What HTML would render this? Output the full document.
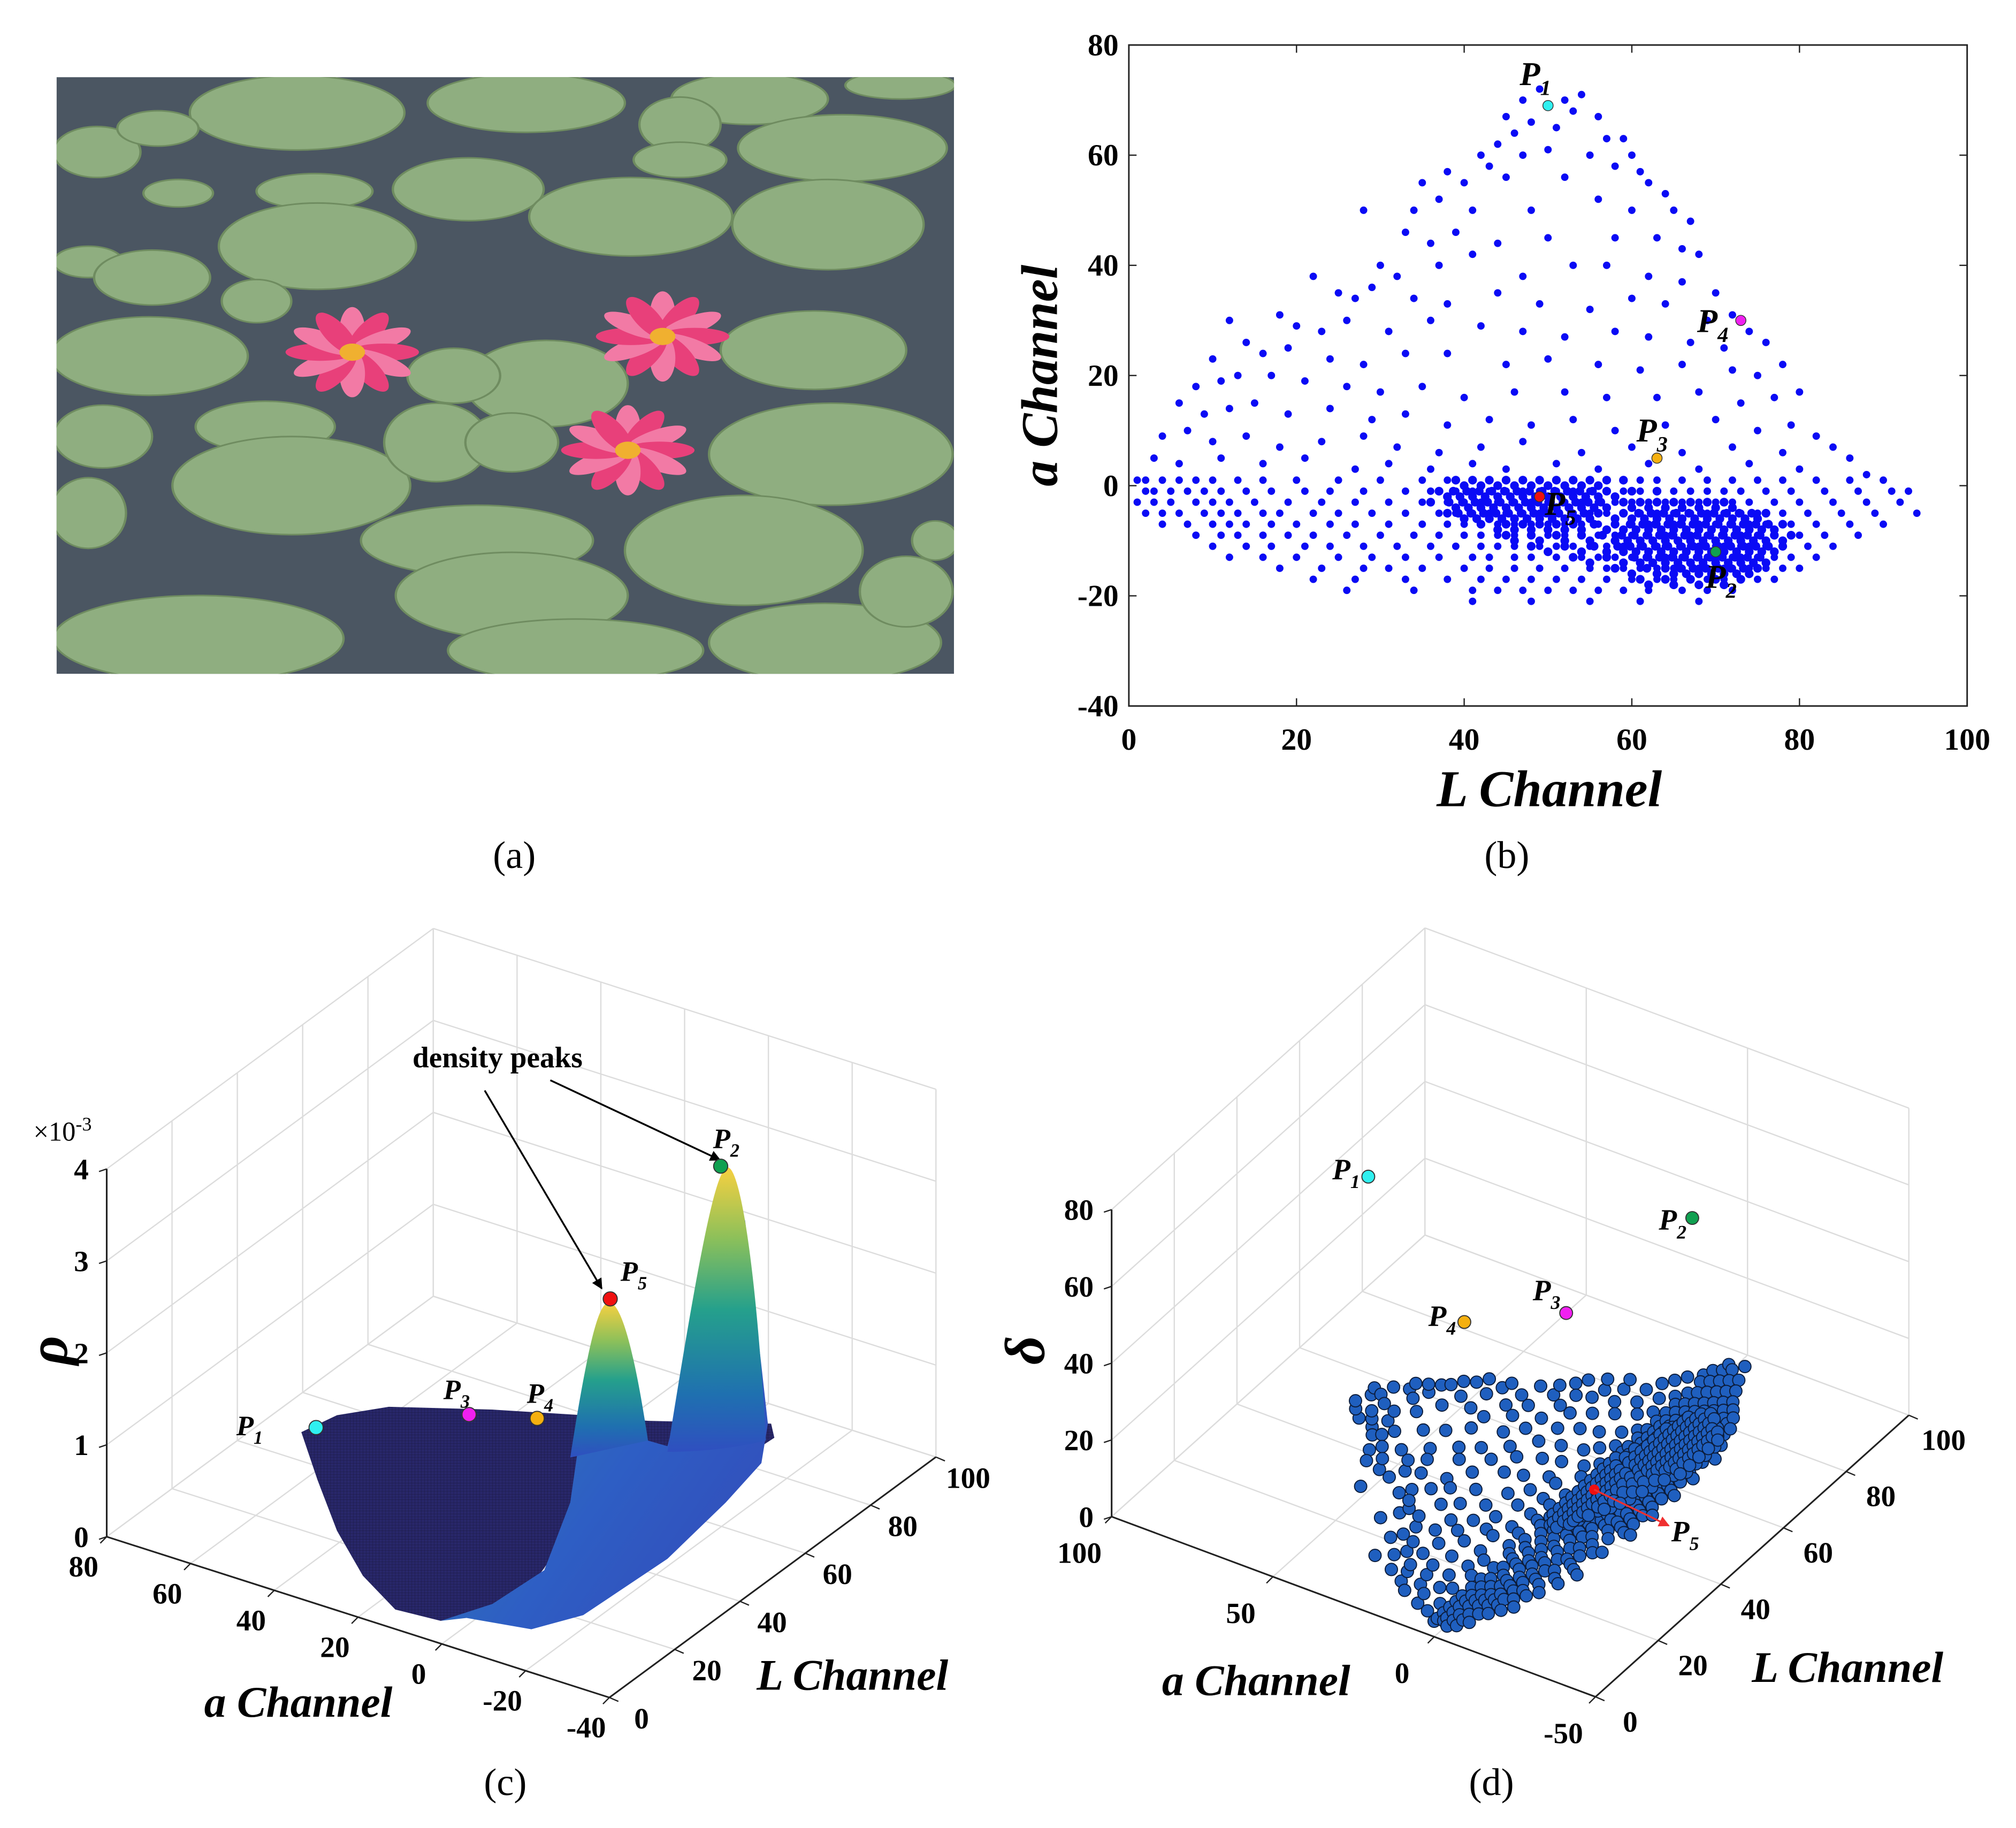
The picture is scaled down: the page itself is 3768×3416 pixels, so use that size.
<!DOCTYPE html>
<html><head><meta charset="utf-8"><style>
html,body{margin:0;padding:0;background:#fff;}
svg{display:block;}
text{font-family:"Liberation Serif",serif;}
</style></head><body>
<svg id="fig" xmlns="http://www.w3.org/2000/svg" width="3768" height="3416" viewBox="0 0 1568 1421.5" preserveAspectRatio="none">
<defs>
<clipPath id="photoClip"><rect x="44" y="60" width="698" height="464"/></clipPath>
<linearGradient id="peakGrad" x1="0" y1="0" x2="0" y2="1">
<stop offset="0" stop-color="#f7d040"/><stop offset="0.25" stop-color="#8cc05a"/><stop offset="0.5" stop-color="#25a08c"/><stop offset="0.8" stop-color="#1f70b0"/><stop offset="1" stop-color="#2f4fc0"/></linearGradient>
<linearGradient id="bodyGrad" x1="0" y1="0" x2="1" y2="1">
<stop offset="0" stop-color="#2b8fa5"/><stop offset="0.6" stop-color="#2e5ec4"/><stop offset="1" stop-color="#3448b8"/></linearGradient>
<pattern id="mesh" width="5" height="5" patternUnits="userSpaceOnUse"><rect width="5" height="5" fill="#28276a"/><path d="M0,0 L5,0 M0,0 L0,5" stroke="#1a1940" stroke-width="0.8"/></pattern>
<marker id="arrowBlack" viewBox="0 0 10 10" refX="9" refY="5" markerWidth="6" markerHeight="6" orient="auto"><path d="M0,0 L10,5 L0,10 Z" fill="#000"/></marker>
<marker id="arrowRed" viewBox="0 0 10 10" refX="9" refY="5" markerWidth="6" markerHeight="6" orient="auto"><path d="M0,0 L10,5 L0,10 Z" fill="#f03030"/></marker>
</defs>
<g id="panelA" clip-path="url(#photoClip)"></g>
<g id="panelB"></g>
<g id="panelC"></g>
<g id="panelD"></g>
<g id="captions"></g>
</svg>
<script>
// ---------- data: panel (b) scatter ----------
const sparseL = [45,47,49,52,54,53,56,44,46,48,51,57,59,42,43,47,50,55,58,60,61,38,35,40,45,52,62,64,34,37,41,48,56,60,65,67,28,33,36,39,44,50,58,63,66,68,30,32,37,41,47,53,57,62,66,70,22,25,27,29,34,38,44,49,55,60,64,69,72,74,18,20,23,26,31,36,42,47,52,58,62,67,71,76,12,14,16,19,24,28,33,38,45,50,56,61,66,72,75,78,10,8,11,13,17,21,26,30,35,40,46,52,57,63,68,73,77,80,6,9,12,15,19,24,29,33,38,43,48,53,58,64,70,75,79,82,4,7,10,14,18,23,28,32,37,42,47,54,60,66,72,78,84,86,3,6,11,16,21,27,31,36,41,45,51,56,62,68,74,80,88,91];
const sparseA = [67,70,72,70,71,68,67,62,64,66,65,63,63,60,58,60,61,60,58,60,57,57,55,55,56,56,55,53,50,52,50,50,52,50,50,48,50,46,44,46,44,45,45,45,43,42,40,38,40,42,38,40,40,38,37,35,38,35,34,36,34,33,35,33,32,34,33,30,31,28,31,29,28,30,28,30,29,28,27,28,27,26,25,26,30,26,24,25,23,22,24,24,22,23,22,21,22,21,20,22,23,18,19,20,20,19,18,17,18,16,17,17,16,16,17,15,16,17,15,13,14,15,13,14,12,13,11,12,11,12,10,11,12,10,11,9,9,10,8,9,7,8,9,7,6,7,8,6,7,6,7,6,7,5,5,4,5,4,5,3,4,3,4,3,4,3,4,3,4,3,2];
const bandA = [1,-1,-3,-5,-7,-9,-11,-13,-15,-17,-19,-21];
const bandL = [
[1,2,4,6,8,10,13,16,20,25,30,35,38,41,43,45,47,49,51,53,55,57,59,61,63,66,69,72,75,78,82,86,90],
[2,3,5,7,9,11,14,17,21,24,28,33,36,39,41,43,45,47,49,51,53,55,57,59,61,63,65,67,69,71,73,76,79,83,87,91,93],
[1,3,5,8,10,12,15,19,23,27,31,35,38,40,42,44,46,48,50,52,54,56,58,60,62,64,66,68,70,72,74,77,80,84,88,92],
[2,4,6,9,11,13,16,18,22,25,29,33,37,39,41,43,45,47,49,51,53,55,57,59,61,63,65,67,69,71,73,75,78,81,85,89,94],
[4,7,10,12,14,17,20,24,27,31,35,38,40,42,44,46,48,50,52,54,56,58,60,62,63,65,66,68,70,72,74,76,79,82,86,90],
[8,11,13,16,19,22,26,30,34,37,40,42,44,46,48,50,52,54,56,58,60,62,64,65,67,69,71,73,75,77,80,83,87],
[10,14,17,21,24,28,32,36,39,42,44,46,49,51,53,55,57,59,61,63,64,66,67,68,70,71,73,74,76,78,81,84],
[12,16,20,25,29,33,37,41,43,46,48,51,54,56,58,60,62,64,65,66,68,69,70,72,73,75,77,79,82],
[18,23,28,31,35,40,43,46,49,52,55,57,59,61,63,65,66,68,69,71,72,74,76,78,80],
[22,27,33,38,42,45,48,51,54,57,60,63,65,67,69,71,73,75,77],
[26,34,41,44,47,50,53,56,59,62,66,69,72],
[41,48,55,61,68]];
const denseA = [0,-2,-4,-6,-8,-10,-12,-14,-16,-18];
const denseL = [
[40,42,44,46,48,50,52,54,56],
[38,39.5,41,42.5,44,45.5,47,48.5,50,51.5,53,54.5,56,58],
[39,40.5,42,43.5,45,46.5,48,49.5,51,52.5,54,55.5,57,60,62,64,66,68,70,72],
[40,41.5,43,44.5,46,47.5,49,50.5,52,53.5,55,58,60,61.5,63,64.5,66,67.5,69,70.5,72,73.5,75],
[44,46,48,50,52,54,57,59,60.5,62,63.5,65,66.5,68,69.5,71,72.5,74,75.5,77],
[46,49,52,55,58,59.5,61,62.5,64,65.5,67,68.5,70,71.5,73,74.5,76,78],
[50,54,57,59,60.5,62,63.5,65,66.5,68,69.5,71,72.5,74,75.5,77],
[55,59,61,62.5,64,65.5,67,68.5,70,71.5,73,74.5,76],
[60,63,65,66.5,68,69.5,71,72.5,74],
[62,65,68,71]];
const denseA2 = [1,-1,-3,-5,-7,-9,-11,-13,-15,-17];
const denseL2 = [
[39,41,43,45,47,49,51,53,55,57,59],
[37,38.7,40.3,41.8,43.3,44.8,46.3,47.8,49.3,50.8,52.3,53.8,55.3,57,60,63],
[36,38.2,39.8,41.3,42.8,44.3,45.8,47.3,48.8,50.3,51.8,53.3,54.8,56.3,59,61,63,65,67,69,71],
[38,39.3,40.8,42.3,43.8,45.3,46.8,48.3,49.8,51.3,52.8,54.3,56,59,60.8,62.3,63.8,65.3,66.8,68.3,69.8,71.3,72.8,74.3,76],
[42,45,47,49,51,53,55.5,58,59.8,61.3,62.8,64.3,65.8,67.3,68.8,70.3,71.8,73.3,74.8,76.3,78],
[45,48,51,54,56.5,58.8,60.3,61.8,63.3,64.8,66.3,67.8,69.3,70.8,72.3,73.8,75.3,77,79],
[48,52,55.5,58.3,59.8,61.3,62.8,64.3,65.8,67.3,68.8,70.3,71.8,73.3,74.8,76.3,78],
[53,57,60.3,61.8,63.3,64.8,66.3,67.8,69.3,70.8,72.3,73.8,75.3],
[58,61.8,64,65.8,67.3,68.8,70.3,71.8,73.3,75],
[61,64,67,70,73]];
const peakNames = ['P1','P2','P3','P4','P5'];
const peakColors = ['#2ff0f0','#10a050','#f5b010','#f020f0','#f01010'];
const peakL = [50,70,63,73,49];
const peakA = [69,-12,5,30,-2];
const xTicksB = [0,20,40,60,80,100];
const yTicksB = [-40,-20,0,20,40,60,80];
// ---------- data: panel (c) ----------
const cNames = ['P1','P2','P3','P4','P5'];
const cColors = ['#2ff0f0','#10a050','#f020f0','#f5b010','#f01010'];
const cL = [50,70,68.5,73.7,49];
const cA = [69,-12,46.9,34.7,-2];
const cRho = [0.04,3.54,0.02,0.02,2.5];
const cZTicks = [0,1,2,3,4];
const cATicks = [80,60,40,20,0,-20,-40];
const cLTicks = [0,20,40,60,80,100];
// ---------- data: panel (d) ----------
const dNames = ['P1','P2','P3','P4'];
const dColors = ['#2ff0f0','#10a050','#f020f0','#f5b010'];
const dL = [50,70,73,40.5];
const dA = [69,-12,30,30];
const dDelta = [61.6,61.5,21.4,42.9];
const dZTicks = [0,20,40,60,80];
const dATicks = [100,50,0,-50];
const dLTicks = [0,20,40,60,80,100];
const cloudDelta = 3;

const NS='http://www.w3.org/2000/svg';
function mk(tag,name,attrs,parent){
  const el=document.createElementNS(NS,tag);
  
  
  for(const k in attrs) el.setAttribute(k,attrs[k]);
  parent.appendChild(el); return el;
}
function txt(name,x,y,s,size,parent,extra){
  const a=Object.assign({x:x,y:y,'font-size':size,'font-weight':'bold','text-anchor':'middle'},extra||{});
  const t=mk('text',name,a,parent); t.textContent=s; return t;
}
function plabel(name,x,y,s,size,parent){
  const t=mk('text',name,{x:x,y:y,'font-size':size,'font-weight':'bold','font-style':'italic','text-anchor':'start'},parent);
  t.appendChild(document.createTextNode(s[0]));
  const sp=document.createElementNS(NS,'tspan');
  
  
  sp.setAttribute('dy',size*0.3); sp.setAttribute('font-size',size*0.65);
  sp.textContent=s.slice(1); t.appendChild(sp); return t;
}
const nSparse=Math.min(sparseL.length,sparseA.length);

// ---------- panel (a): photo ----------
(function(){
  const P=document.getElementById('panelA');
  mk('rect','water-background',{x:44,y:60,width:698,height:464,fill:'#4b5662'},P);
  const g=mk('g','lily-pads',{transform:'translate(41.6,54.1) scale(0.4512,0.3052)'},P);
  const pads=[[420,110,185,95],[815,85,170,75],[1200,75,135,65],[1460,40,95,35],[75,210,75,65],[180,150,70,45],[1360,200,180,85],[1080,140,70,70],[1080,230,80,45],[715,305,130,80],[450,310,100,45],[215,315,60,35],[995,375,175,100],[1335,395,165,115],[455,450,170,110],[60,490,60,40],[170,530,100,70],[350,590,60,55],[165,730,170,100],[850,800,140,110],[690,780,80,70],[1310,715,160,100],[85,935,85,80],[365,910,120,65],[410,1060,205,125],[660,950,90,100],[790,950,80,75],[1340,980,210,130],[60,1130,65,90],[730,1200,200,90],[790,1340,200,110],[1190,1225,205,140],[250,1450,250,110],[900,1480,220,80],[1330,1460,200,100],[1470,1330,80,90],[1520,1200,40,50]];
  pads.forEach(p=>{mk('ellipse','lily-pad',{cx:p[0],cy:p[1],rx:p[2],ry:p[3],fill:'#8fae80',stroke:'#6f8c60','stroke-width':4},g);});
  [[515,720],[1050,680],[990,970]].forEach(f=>{
    const fg=mk('g','water-lily-flower',{transform:'translate('+f[0]+','+f[1]+')'},g);
    for(let i=0;i<12;i++){mk('ellipse','petal',{cx:0,cy:-55,rx:22,ry:60,fill:i%2?'#e8407a':'#f27aa5',transform:'rotate('+(i*30)+')'},fg);}
    mk('circle','flower-center',{cx:0,cy:0,r:22,fill:'#f0b030'},fg);
  });
})();

// ---------- panel (b): 2D scatter ----------
(function(){
  const P=document.getElementById('panelB');
  const x0=878,x1=1530,y0=549,y1=35;
  const X=L=>x0+(L-0)/100*(x1-x0);
  const Y=a=>y0-(a+40)/120*(y0-y1);
  mk('rect','plot-area',{x:x0,y:y1,width:x1-x0,height:y0-y1,fill:'#fff',stroke:'#222','stroke-width':1.2},P);
  const pts=mk('g','scatter-points',{fill:'#0a0af5'},P);
  for(let i=0;i<nSparse;i++){mk('circle','data-point',{cx:X(sparseL[i]),cy:Y(sparseA[i]),r:2.9},pts);}
  bandA.forEach((a,r)=>bandL[r].forEach(L=>{mk('circle','data-point',{cx:X(L),cy:Y(a),r:2.9},pts);}));
  denseA.forEach((a,r)=>denseL[r].forEach(L=>{mk('circle','data-point',{cx:X(L),cy:Y(a),r:3.4},pts);}));
  denseA2.forEach((a,r)=>denseL2[r].forEach(L=>{mk('circle','data-point',{cx:X(L),cy:Y(a),r:3.4},pts);}));
  xTicksB.forEach(v=>{
    mk('line','x-tick',{x1:X(v),y1:y0,x2:X(v),y2:y0-6,stroke:'#222'},P);
    mk('line','x-tick-top',{x1:X(v),y1:y1,x2:X(v),y2:y1+6,stroke:'#222'},P);
    txt('x-tick-label',X(v),583,String(v),24,P);
  });
  yTicksB.forEach(v=>{
    mk('line','y-tick',{x1:x0,y1:Y(v),x2:x0+6,y2:Y(v),stroke:'#222'},P);
    mk('line','y-tick-right',{x1:x1,y1:Y(v),x2:x1-6,y2:Y(v),stroke:'#222'},P);
    txt('y-tick-label',870,Y(v)+8,String(v),24,P,{'text-anchor':'end'});
  });
  txt('x-axis-title',1205,627,'L Channel',40,P,{'font-style':'italic'});
  txt('y-axis-title',0,0,'a Channel',40,P,{'font-style':'italic',transform:'translate(822,292) rotate(-90)'});
  const off=[[-22,-16],[-8,28],[-16,-13],[-34,9],[4,14]];
  peakNames.forEach((n,i)=>{
    mk('circle','peak-marker-'+n.toLowerCase(),{cx:X(peakL[i]),cy:Y(peakA[i]),r:4,fill:peakColors[i],stroke:'#333','stroke-width':0.6},P);
    plabel('peak-label-'+n.toLowerCase(),X(peakL[i])+off[i][0],Y(peakA[i])+off[i][1],n,26,P);
  });
})();

// ---------- panel (c): 3D density surface ----------
(function(){
  const P=document.getElementById('panelC');
  const pr=(a,L,z)=>[83+(80-a)*3.258+L*2.54, 1195+(80-a)*1.042-L*1.87-z*71.5];
  const line=(name,p,q,st,w)=>mk('line',name,{x1:p[0],y1:p[1],x2:q[0],y2:q[1],stroke:st||'#dcdcdc','stroke-width':w||1},P);
  cZTicks.forEach(z=>{line('grid-z',pr(80,0,z),pr(80,100,z));line('grid-z',pr(80,100,z),pr(-40,100,z));});
  cLTicks.forEach(L=>{line('grid-l-wall',pr(80,L,0),pr(80,L,4));line('grid-l-floor',pr(80,L,0),pr(-40,L,0));});
  cATicks.forEach(a=>{line('grid-a-wall',pr(a,100,0),pr(a,100,4));line('grid-a-floor',pr(a,0,0),pr(a,100,0));});
  line('z-axis',pr(80,0,0),pr(80,0,4),'#222',1.3);
  line('a-axis',pr(80,0,0),pr(-40,0,0),'#222',1.3);
  line('l-axis',pr(-40,0,0),pr(-40,100,0),'#222',1.3);
  cZTicks.forEach(z=>{const p=pr(80,0,z);line('z-tick',p,[p[0]-6,p[1]+2],'#222');txt('z-tick-label',p[0]-14,p[1]+8,String(z),23,P,{'text-anchor':'end'});});
  cATicks.forEach(a=>{const p=pr(a,0,0);line('a-tick',p,[p[0]-5,p[1]+5],'#222');txt('a-tick-label',p[0]-18,p[1]+31,String(a),23,P);});
  cLTicks.forEach(L=>{const p=pr(-40,L,0);line('l-tick',p,[p[0]+7,p[1]+3],'#222');txt('l-tick-label',p[0]+25,p[1]+24,String(L),23,P);});
  const ex=txt('z-exponent',26,887,'×10',21,P,{'text-anchor':'start','font-weight':'normal'});
  const sup=document.createElementNS(NS,'tspan');
  
  
  sup.setAttribute('dy','-8'); sup.setAttribute('font-size','15'); sup.textContent='-3'; ex.appendChild(sup);
  txt('z-axis-title',0,0,'ρ',44,P,{'font-style':'italic',transform:'translate(52,1050) rotate(-90)'});
  txt('a-axis-title',232,1335,'a Channel',34,P,{'font-style':'italic'});
  txt('l-axis-title',663,1314,'L Channel',34,P,{'font-style':'italic'});
  const s=mk('g','density-surface',{transform:'translate(0,686.6) scale(0.504,0.438)'},P);
  mk('path','surface-flat-region',{d:'M465,975 L520,945 L600,930 L760,935 L900,945 L1000,955 L1190,960 L1195,985 L1175,1000 L1100,1010 L1000,1005 L950,1020 L890,1100 L850,1200 L800,1280 L720,1300 L680,1310 L610,1290 L560,1230 L520,1150 L490,1060 Z',fill:'url(#mesh)'},s);
  mk('path','surface-ridge',{d:'M680,1310 L760,1280 L840,1220 L880,1100 L905,900 L940,745 L975,850 L1000,990 L1030,1000 L1060,870 L1095,600 L1123,505 L1150,600 L1185,960 L1175,1030 L1120,1100 L1030,1200 L900,1300 L820,1325 L720,1305 Z',fill:'url(#bodyGrad)'},s);
  mk('path','peak-p5-surface',{d:'M880,1020 C910,800 925,745 940,745 C955,745 975,800 1000,990 Q960,1000 880,1020 Z',fill:'url(#peakGrad)'},s);
  mk('path','peak-p2-surface',{d:'M1030,1010 C1080,650 1105,505 1123,505 C1140,505 1165,650 1182,990 Q1110,1010 1030,1010 Z',fill:'url(#peakGrad)'},s);
  txt('density-peaks-annotation',387,830,'density peaks',23,P);
  mk('line','annotation-arrow-p5',{x1:377,y1:848,x2:468,y2:1002,stroke:'#000','stroke-width':1.4,'marker-end':'url(#arrowBlack)'},P);
  mk('line','annotation-arrow-p2',{x1:428,y1:840,x2:560,y2:902,stroke:'#000','stroke-width':1.4,'marker-end':'url(#arrowBlack)'},P);
  const off=[[-62,6],[-6,-14],[-20,-12],[-8,-12],[8,-14]];
  cNames.forEach((n,i)=>{
    const p=pr(cA[i],cL[i],cRho[i]);
    mk('circle','density-marker-'+n.toLowerCase(),{cx:p[0],cy:p[1],r:5.5,fill:cColors[i],stroke:'#333','stroke-width':0.8},P);
    plabel('density-label-'+n.toLowerCase(),p[0]+off[i][0],p[1]+off[i][1],n,22,P);
  });
})();

// ---------- panel (d): 3D decision graph ----------
(function(){
  const P=document.getElementById('panelD');
  const pr=(a,L,z)=>[864.6+(100-a)*2.509+L*2.437, 1179.4+(100-a)*0.934-L*2.19-z*2.985];
  const line=(name,p,q,st,w)=>mk('line',name,{x1:p[0],y1:p[1],x2:q[0],y2:q[1],stroke:st||'#dcdcdc','stroke-width':w||1},P);
  dZTicks.forEach(z=>{line('grid-z',pr(100,0,z),pr(100,100,z));line('grid-z',pr(100,100,z),pr(-50,100,z));});
  dLTicks.forEach(L=>{line('grid-l-wall',pr(100,L,0),pr(100,L,80));line('grid-l-floor',pr(100,L,0),pr(-50,L,0));});
  dATicks.forEach(a=>{line('grid-a-wall',pr(a,100,0),pr(a,100,80));line('grid-a-floor',pr(a,0,0),pr(a,100,0));});
  line('z-axis',pr(100,0,0),pr(100,0,80),'#222',1.3);
  line('a-axis',pr(100,0,0),pr(-50,0,0),'#222',1.3);
  line('l-axis',pr(-50,0,0),pr(-50,100,0),'#222',1.3);
  dZTicks.forEach(z=>{const p=pr(100,0,z);line('z-tick',p,[p[0]-6,p[1]+2],'#222');txt('z-tick-label',p[0]-14,p[1]+8,String(z),23,P,{'text-anchor':'end'});});
  dATicks.forEach(a=>{const p=pr(a,0,0);line('a-tick',p,[p[0]-5,p[1]+5],'#222');txt('a-tick-label',p[0]-25,p[1]+36,String(a),23,P);});
  dLTicks.forEach(L=>{const p=pr(-50,L,0);line('l-tick',p,[p[0]+7,p[1]+3],'#222');txt('l-tick-label',p[0]+27,p[1]+27,String(L),23,P);});
  txt('z-axis-title',0,0,'δ',44,P,{'font-style':'italic',transform:'translate(812,1050) rotate(-90)'});
  txt('a-axis-title',977,1318,'a Channel',34,P,{'font-style':'italic'});
  txt('l-axis-title',1437,1308,'L Channel',34,P,{'font-style':'italic'});
  const cg=mk('g','point-cloud',{fill:'#1f5fbf',stroke:'#0c1c3a','stroke-width':0.8},P);
  const add=(L,a)=>{const p=pr(a,L,cloudDelta);mk('circle','cloud-point',{cx:p[0],cy:p[1],r:4.8},cg);};
  for(let i=0;i<nSparse;i++) add(sparseL[i],sparseA[i]);
  bandA.forEach((a,r)=>bandL[r].forEach(L=>add(L,a)));
  denseA.forEach((a,r)=>denseL[r].forEach(L=>add(L,a)));
  denseA2.forEach((a,r)=>denseL2[r].forEach(L=>add(L,a)));
  const off=[[-28,2],[-26,9],[-26,-10],[-28,3]];
  dNames.forEach((n,i)=>{
    const p=pr(dA[i],dL[i],dDelta[i]);
    mk('circle','decision-marker-'+n.toLowerCase(),{cx:p[0],cy:p[1],r:5,fill:dColors[i],stroke:'#333','stroke-width':0.8},P);
    plabel('decision-label-'+n.toLowerCase(),p[0]+off[i][0],p[1]+off[i][1],n,23,P);
  });
  const p5=pr(-2,49,cloudDelta);
  mk('circle','decision-marker-p5',{cx:p5[0],cy:p5[1],r:4,fill:'#f01010'},P);
  mk('line','p5-arrow',{x1:p5[0],y1:p5[1],x2:p5[0]+58,y2:p5[1]+28,stroke:'#f03030','stroke-width':1.4,'marker-end':'url(#arrowRed)'},P);
  plabel('decision-label-p5',p5[0]+60,p5[1]+40,'P5',23,P);
})();

// ---------- captions ----------
(function(){
  const P=document.getElementById('captions');
  [['caption-a',400,'(a)',675],['caption-b',1172,'(b)',675],['caption-c',393,'(c)',1396],['caption-d',1160,'(d)',1396]].forEach(c=>{
    txt(c[0],c[1],c[3],c[2],30,P,{'font-weight':'normal'});
  });
})();
</script>
</body></html>
